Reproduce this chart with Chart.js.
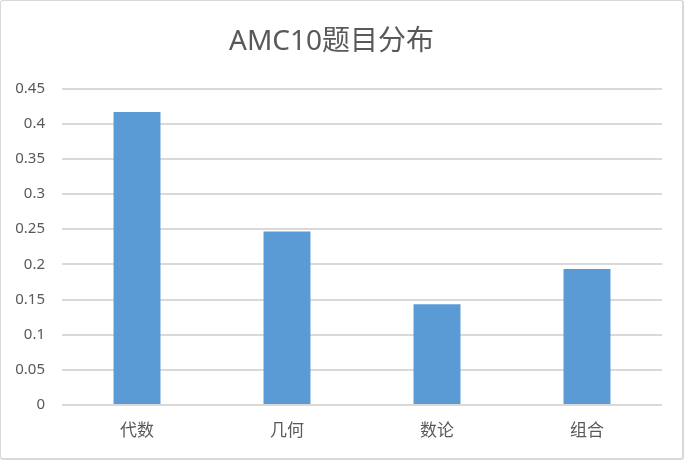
<!DOCTYPE html>
<html>
<head>
<meta charset="utf-8">
<script src="https://cdn.jsdelivr.net/npm/chart.js@4.4.1/dist/chart.umd.min.js"></script>
<style>
  html, body { margin: 0; padding: 0; background: #fff; }
  #wrap { position: absolute; left: 0; top: 0; width: 684px; height: 460px; box-sizing: border-box; border: 1px solid #d9d9d9; border-right-width: 2px; border-bottom-width: 2px; border-radius: 3px; }
  #wrap canvas { display: block; }
</style>
</head>
<body>
<div id="wrap"><canvas id="c" width="681" height="457"></canvas></div>
<script>
const categories = ['代数', '几何', '数论', '组合'];
const values = [0.4167, 0.2467, 0.1433, 0.1933];
const yTicks = [0, 0.05, 0.1, 0.15, 0.2, 0.25, 0.3, 0.35, 0.4, 0.45];
const titleText = 'AMC10题目分布';

const FONT = '"Noto Sans", "Noto Sans CJK SC", sans-serif';

new Chart(document.getElementById('c'), {
  type: 'bar',
  data: {
    labels: categories,
    datasets: [{
      data: values,
      backgroundColor: '#5b9bd5',
      borderWidth: 0,
      categoryPercentage: 1,
      barPercentage: 0.313
    }]
  },
  options: {
    responsive: false,
    animation: false,
    devicePixelRatio: 1,
    layout: { padding: { left: 0, right: 20, top: 0, bottom: 0 } },
    plugins: {
      legend: { display: false },
      tooltip: { enabled: false },
      title: {
        display: true,
        text: titleText,
        color: '#595959',
        font: { family: FONT, size: 28, weight: 'normal' },
        padding: { top: 24, bottom: 30 }
      }
    },
    scales: {
      x: {
        grid: { display: false, drawTicks: false },
        border: { display: false },
        ticks: {
          color: '#595959',
          font: { family: '"Noto Sans CJK SC", sans-serif', size: 17 },
          padding: 14
        },
        afterFit: (s) => { s.height = 53; }
      },
      y: {
        min: 0,
        max: 0.45,
        afterBuildTicks: (s) => { s.ticks = yTicks.map(v => ({ value: v })); },
        grid: { color: '#d9d9d9', lineWidth: 2, drawTicks: false },
        border: { display: false },
        ticks: {
          color: '#595959',
          font: { family: FONT, size: 15 },
          padding: 17,
          callback: (v) => String(Math.round(v * 100) / 100)
        },
        afterFit: (s) => { s.width = 61; }
      }
    }
  }
});
</script>
</body>
</html>
